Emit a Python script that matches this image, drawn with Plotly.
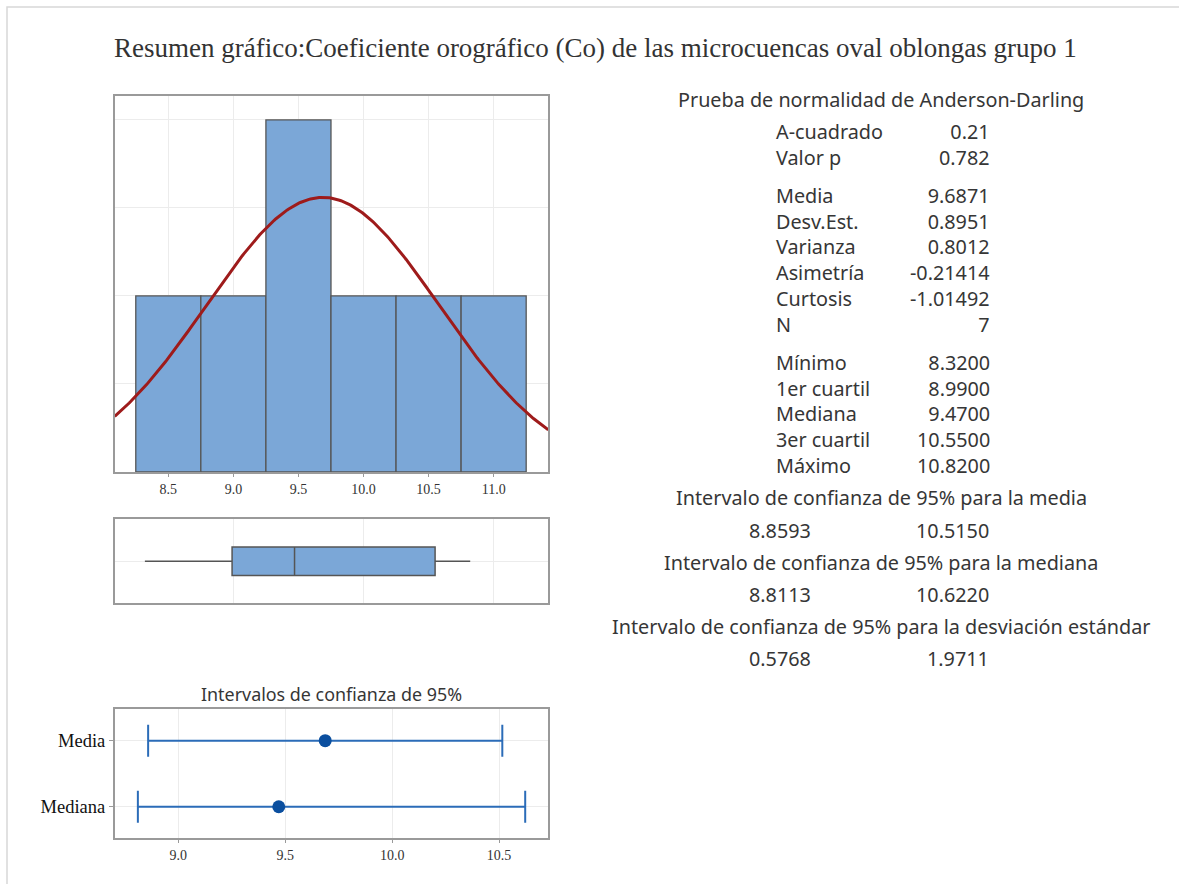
import numpy as np
import plotly.graph_objects as go

# ---------------- data ----------------
bin_edges = [8.25, 8.75, 9.25, 9.75, 10.25, 10.75, 11.25]
bin_counts = [1, 1, 2, 1, 1, 1]

mean_val = 9.6871
sd_val = 0.8951
n_obs = 7
min_val = 8.32
q1_val = 8.99
median_val = 9.47
q3_val = 10.55
max_val = 10.82

ci_labels = ["Mediana", "Media"]
ci_points = [9.47, 9.6871]
ci_low = [8.8113, 8.8593]
ci_high = [10.6220, 10.5150]

hist_ticks = [8.5, 9.0, 9.5, 10.0, 10.5, 11.0]
ci_ticks = [9.0, 9.5, 10.0, 10.5]

ad_labels = ["A-cuadrado", "Valor p"]
ad_values = ["0.21", "0.782"]
moment_labels = ["Media", "Desv.Est.", "Varianza", "Asimetría", "Curtosis", "N"]
moment_values = ["9.6871", "0.8951", "0.8012", "-0.21414", "-1.01492", "7"]
quant_labels = ["Mínimo", "1er cuartil", "Mediana", "3er cuartil", "Máximo"]
quant_values = ["8.3200", "8.9900", "9.4700", "10.5500", "10.8200"]

ci_headers = ["Intervalo de confianza de 95% para la media",
              "Intervalo de confianza de 95% para la mediana",
              "Intervalo de confianza de 95% para la desviación estándar"]
ci_text_low = ["8.8593", "8.8113", "0.5768"]
ci_text_high = ["10.5150", "10.6220", "1.9711"]

title_text = "Resumen gráfico:Coeficiente orográfico (Co) de las microcuencas oval oblongas grupo 1"

# ---------------- layout helpers ----------------
W, H = 1179, 884
def px(x):
    return x / W
def py(y):
    return 1 - y / H

SANS = "Noto Sans, Open Sans, sans-serif"
SERIF = "Liberation Serif, Times New Roman, serif"
TXT = "#363636"
BAR = "#7ba7d7"
EDGE = "#555555"
FRAME = "#9a9a9a"
GRID = "#ececec"

fig = go.Figure()

# histogram
centers = [(a + b) / 2 for a, b in zip(bin_edges[:-1], bin_edges[1:])]
widths = [b - a for a, b in zip(bin_edges[:-1], bin_edges[1:])]
fig.add_trace(go.Bar(x=centers, y=bin_counts, width=widths,
                     marker=dict(color=BAR, line=dict(color=EDGE, width=1.3)),
                     xaxis="x", yaxis="y", showlegend=False))

x_range = [8.088, 11.42]
xs = np.linspace(x_range[0], x_range[1], 300)
bw = bin_edges[1] - bin_edges[0]
ys = n_obs * bw / (sd_val * np.sqrt(2 * np.pi)) * np.exp(-0.5 * ((xs - mean_val) / sd_val) ** 2)
fig.add_trace(go.Scatter(x=xs, y=ys, mode="lines", line=dict(color="#9e1b1b", width=3),
                         xaxis="x", yaxis="y", showlegend=False))

# box plot
fig.add_trace(go.Box(y=[0], q1=[q1_val], median=[median_val], q3=[q3_val],
                     lowerfence=[min_val], upperfence=[max_val], orientation="h",
                     width=0.68, whiskerwidth=0, fillcolor=BAR,
                     line=dict(color=EDGE, width=1.5), boxpoints=False,
                     xaxis="x2", yaxis="y2", showlegend=False))

# confidence intervals
for i in range(len(ci_labels)):
    fig.add_trace(go.Scatter(
        x=[ci_points[i]], y=[i], mode="markers",
        marker=dict(color="#0b4f9f", size=13),
        error_x=dict(type="data", symmetric=False,
                     array=[ci_high[i] - ci_points[i]],
                     arrayminus=[ci_points[i] - ci_low[i]],
                     width=16, thickness=2, color="#2b6cb8"),
        xaxis="x3", yaxis="y3", showlegend=False))

xdom = [px(114.7), px(548.3)]

axis_common = dict(showline=True, linecolor=FRAME, linewidth=1.5, mirror=True,
                   gridcolor=GRID, gridwidth=1, zeroline=False)

layout = dict(
    width=W, height=H, margin=dict(l=0, r=0, t=0, b=0),
    paper_bgcolor="white", plot_bgcolor="white",
    xaxis=dict(domain=xdom, range=x_range, tickvals=hist_ticks,
               ticktext=[f"{v:.1f}" for v in hist_ticks], anchor="y",
               ticks="outside", ticklen=3, tickcolor=FRAME,
               tickfont=dict(family=SERIF, size=14, color="#333"), **axis_common),
    yaxis=dict(domain=[py(472), py(96)], range=[0, 2.136], tickvals=[0.5, 1, 1.5, 2],
               showticklabels=False, anchor="x", **axis_common),
    xaxis2=dict(domain=xdom, range=x_range, tickvals=[9, 10, 11], showticklabels=False,
                anchor="y2", **axis_common),
    yaxis2=dict(domain=[py(603.3), py(519.3)], range=[-1, 1], tickvals=[0],
                showticklabels=False, anchor="x2", **axis_common),
    xaxis3=dict(domain=xdom, range=[8.703, 10.730], tickvals=ci_ticks,
                ticktext=[f"{v:.1f}" for v in ci_ticks], anchor="y3",
                ticks="outside", ticklen=3, tickcolor=FRAME,
                tickfont=dict(family=SERIF, size=14, color="#333"), **axis_common),
    yaxis3=dict(domain=[py(838.3), py(709.3)], range=[-0.478, 1.475], tickvals=[0, 1],
                ticktext=ci_labels, anchor="x3", ticks="outside", ticklen=4, tickcolor=FRAME,
                tickfont=dict(family=SERIF, size=18.5, color="#111"), **axis_common),
)
fig.update_layout(**layout)

ann = []
ann.append(dict(text=title_text, x=px(595), y=py(48), xref="paper", yref="paper",
                xanchor="center", yanchor="middle", showarrow=False,
                font=dict(family=SERIF, size=27, color="#333")))
ann.append(dict(text="Intervalos de confianza de 95%", x=px(331.5), y=py(694),
                xref="paper", yref="paper", xanchor="center", yanchor="middle",
                showarrow=False, font=dict(family=SANS, size=17.9, color=TXT)))

FS = 19.8
ann.append(dict(text="Prueba de normalidad de Anderson-Darling", x=px(880.5), y=py(99),
                xref="paper", yref="paper", xanchor="center", yanchor="middle",
                showarrow=False, borderpad=0, font=dict(family=SANS, size=FS, color=TXT)))

groups = [(ad_labels, ad_values, 144.25),
          (moment_labels, moment_values, 259.85),
          (quant_labels, quant_values, 413.85)]
for labs, vals, cy in groups:
    ann.append(dict(text="<br>".join(labs), x=px(775), y=py(cy), xref="paper", yref="paper",
                    xanchor="left", yanchor="middle", align="left", showarrow=False,
                    borderpad=0, font=dict(family=SANS, size=FS, color=TXT)))
    ann.append(dict(text="<br>".join(vals), x=px(991), y=py(cy), xref="paper", yref="paper",
                    xanchor="right", yanchor="middle", align="right", showarrow=False,
                    borderpad=0, font=dict(family=SANS, size=FS, color=TXT)))

head_y = [497.5, 562, 626]
val_y = [530, 594, 658]
for h, lo, hi, hy, vy in zip(ci_headers, ci_text_low, ci_text_high, head_y, val_y):
    ann.append(dict(text=h, x=px(881), y=py(hy), xref="paper", yref="paper",
                    xanchor="center", yanchor="middle", showarrow=False, borderpad=0,
                    font=dict(family=SANS, size=FS, color=TXT)))
    ann.append(dict(text=lo, x=px(748), y=py(vy), xref="paper", yref="paper",
                    xanchor="left", yanchor="middle", showarrow=False, borderpad=0,
                    font=dict(family=SANS, size=FS, color=TXT)))
    ann.append(dict(text=hi, x=px(990), y=py(vy), xref="paper", yref="paper",
                    xanchor="right", yanchor="middle", showarrow=False, borderpad=0,
                    font=dict(family=SANS, size=FS, color=TXT)))
fig.update_layout(annotations=ann)

# outer light frame (top and left edges visible)
fig.add_shape(type="rect", xref="paper", yref="paper", x0=px(7), y0=py(1000), x1=px(1300), y1=py(7),
              line=dict(color="#d8d8d8", width=1.5), fillcolor="rgba(0,0,0,0)", layer="below")

fig.write_html("out.html", config={"displayModeBar": False},
               post_script="document.body.style.margin='0';document.body.style.overflow='hidden';")
